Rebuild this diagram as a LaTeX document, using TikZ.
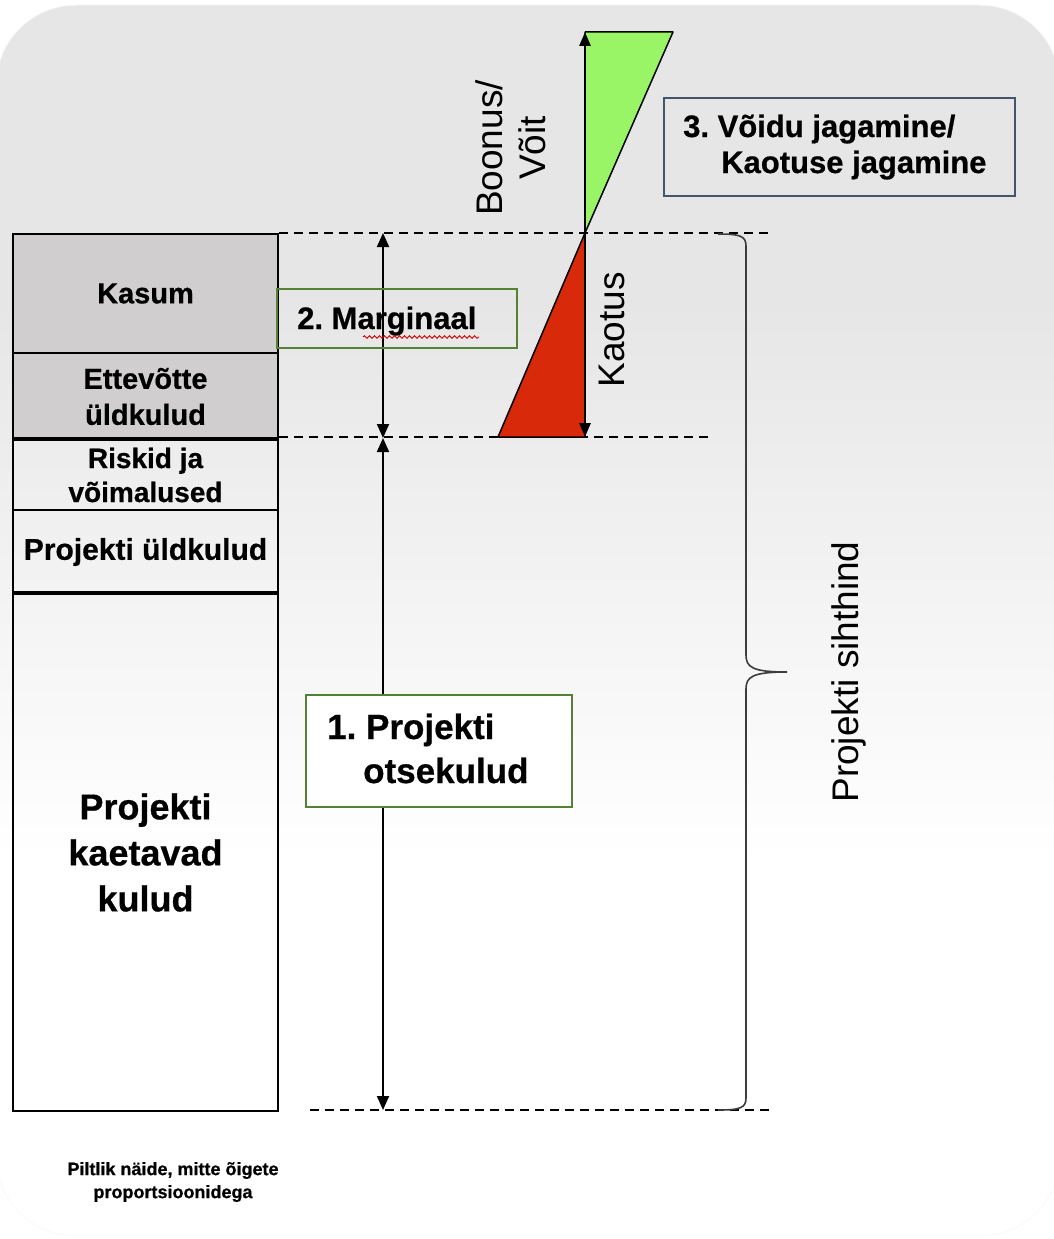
\documentclass[tikz,border=0pt]{standalone}
\usepackage{fontspec}
\setmainfont{Liberation Sans}[BoldFeatures={FakeBold=0.6}]
\usetikzlibrary{arrows.meta,decorations.pathmorphing}
\definecolor{bgtop}{RGB}{230,230,230}
\definecolor{cellgray}{RGB}{208,206,206}
\definecolor{boxgreen}{RGB}{84,130,53}
\definecolor{boxslate}{RGB}{68,84,106}
\definecolor{gainfill}{RGB}{153,245,102}
\definecolor{lossfill}{RGB}{216,41,11}
\definecolor{bracegray}{RGB}{60,60,60}
\newcommand\fsz[2]{\fontsize{#1}{#2}\selectfont}
\frenchspacing

\begin{document}
\begin{tikzpicture}[x=1pt,y=-1pt,
  cell/.style={draw=black, line width=2pt, anchor=north west, minimum width=265pt,
    inner sep=0pt, align=center, font=\bfseries\fsz{29}{35}},
  gbox/.style={draw=boxgreen, line width=2pt, anchor=north west, inner sep=0pt},
  sbox/.style={draw=boxslate, line width=2pt, anchor=north west, inner sep=0pt},
  boldtxt/.style={inner sep=0pt, anchor=base west},
  dashline/.style={line width=2pt, dash pattern=on 9pt off 6pt},
  dimarrow/.style={line width=2pt, {Triangle[length=14pt,width=12pt]}-{Triangle[length=14pt,width=12pt]}},
  vec/.style={line width=2.8pt, -{Triangle[length=14pt,width=11pt]}},
  sidetxt/.style={rotate=90, inner sep=0pt, align=center},
  spell/.style={draw=red!85!black, line width=0.9pt, decorate,
    decoration={snake, amplitude=1.3pt, segment length=5pt}},
  brace/.style={draw=bracegray, line width=1.6pt}
]
\useasboundingbox (0,0) rectangle (1053,1239);

% rounded backdrop, gray at the top fading to white
\begin{scope}
  \clip[rounded corners=80pt] (-4,5) rectangle (1060,1236);
  \fill[white] (-10,0) rectangle (1070,1240);
  \fill[bgtop] (-10,0) rectangle (1070,300);
  \shade[top color=bgtop, bottom color=white] (-10,299) rectangle (1070,860);
\end{scope}
\draw[black!2, line width=1pt, rounded corners=80pt] (-4,5) rectangle (1060,1236);

% cost stack
\node[cell, fill=cellgray, minimum height=119pt] (kasum) at (12,233) {Kasum};
\node[cell, fill=cellgray, minimum height=87pt, font=\bfseries\fsz{29}{36}] (ettev) at (12,352) {Ettevõtte\\üldkulud};
\node[cell, minimum height=70pt, font=\bfseries\fsz{28}{34}] (riskid) at (12,439) {Riskid ja\\võimalused};
\node[cell, minimum height=84pt, font=\bfseries\fsz{30}{36}] (pyld) at (12,509) {Projekti üldkulud};
\node[cell, minimum height=517pt, font=\bfseries\fsz{36}{46}] (kaet) at (12,593) {Projekti\\kaetavad\\kulud};
\draw[line width=3.5pt] (riskid.north west) -- (riskid.north east);
\draw[line width=3.5pt] (kaet.north west) -- (kaet.north east);

% guide lines
\coordinate (d1end) at (770,233);
\coordinate (d2end) at (710,437);
\coordinate (d3start) at (310,1110);
\coordinate (d3end) at (770,1110);
\draw[dashline] (kasum.north east) -- (d1end);
\draw[dashline] (kasum.east |- d2end) -- (d2end);
\draw[dashline] (d3start) -- (d3end);

% dimension arrows
\coordinate (atop) at (383,233);
\coordinate (amid) at (383,438);
\coordinate (abot) at (383,1110);
\draw[dimarrow] (atop) -- (amid);
\draw[dimarrow] (amid) -- (abot);

% margin label
\node[gbox, minimum width=240pt, minimum height=59pt] (margbox) at (276,288) {};
\node[boldtxt, font=\bfseries\fsz{31}{36}] (margtxt) at (297,329) {2. Marginaal};
\draw[spell] (363,337) -- (479,337);

% direct costs label
\node[gbox, fill=white, minimum width=266pt, minimum height=112pt] (otsbox) at (305,694) {};
\node[boldtxt, font=\bfseries\fsz{35}{44}] (otsA) at (327,739) {1. Projekti};
\node[boldtxt, font=\bfseries\fsz{35}{44}] (otsB) at (363,783) {otsekulud};

% gain / loss wedges
\coordinate (gtop) at (585,32);
\coordinate (gright) at (673,32);
\coordinate (pivot) at (585,233);
\coordinate (rbot) at (585,437);
\coordinate (rleft) at (498,437);
\filldraw[fill=gainfill, draw=black, line width=1.5pt, line join=round] (gtop) -- (gright) -- (pivot) -- cycle;
\filldraw[fill=lossfill, draw=black, line width=1.5pt, line join=round] (pivot) -- (rbot) -- (rleft) -- cycle;
\draw[vec] (pivot) -- (gtop);
\draw[vec] (pivot) -- (rbot);

\node[sidetxt, font=\fsz{37}{43}] (boonus) at (511,148) {Boonus/\\Võit};
\node[sidetxt, font=\fsz{37}{43}] (kaotus) at (612,330) {Kaotus};

% sharing label
\node[sbox, minimum width=351pt, minimum height=98pt] (sharebox) at (663,97) {};
\node[boldtxt, font=\bfseries\fsz{31}{36}] (shareA) at (683,137) {3. Võidu jagamine/};
\node[boldtxt, font=\bfseries\fsz{31}{36}] (shareB) at (721,173) {Kaotuse jagamine};

% target price brace
\draw[brace] (718,234) .. controls (740,234) and (746,236) .. (746,246)
  -- (746,655) .. controls (746,667) and (752,672) .. (787,672)
  .. controls (752,672) and (746,677) .. (746,689)
  -- (746,1098) .. controls (746,1108) and (740,1110) .. (718,1110);
\node[sidetxt, font=\fsz{37}{43}] (sihthind) at (849,672) {Projekti sihthind};

% footnote
\node[inner sep=0pt, align=center, font=\bfseries\fsz{18}{23}] (note) at (173,1182) {Piltlik näide, mitte õigete\\proportsioonidega};
\end{tikzpicture}
\end{document}
